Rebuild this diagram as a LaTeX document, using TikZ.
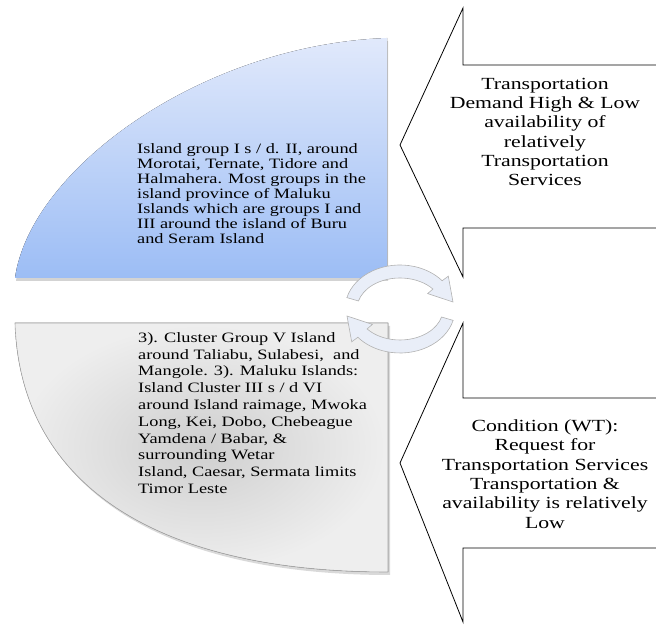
\documentclass[tikz,border=0pt]{standalone}
\usepackage{fontspec}
\setmainfont[FakeStretch=1.28]{Liberation Serif}
\usepackage{tikz}
\usetikzlibrary{shadows}

\definecolor{paleblue}{HTML}{E1E9FB}
\definecolor{deepblue}{HTML}{9CBDF5}
\definecolor{ringfill}{HTML}{E9EEF8}

\begin{document}
\begin{tikzpicture}[
    x=1pt, y=1pt,
    every node/.style={inner sep=0pt, text=black},
    group text/.style={anchor=west, align=left},
    side text/.style={align=center, font=\fontsize{17}{19.3}\selectfont},
    side arrow/.style={draw=black, line width=0.8pt, fill=white, line join=miter},
    turn arrow/.style={draw=gray!60, fill=ringfill, line width=0.6pt}
    ]
    \useasboundingbox (0,0) rectangle (656,626);

    % Island groups
    \fill[top color=paleblue, bottom color=deepblue,
          drop shadow={shadow xshift=1pt, shadow yshift=-3pt, opacity=0.35}]
        (15,348) .. controls (30,456) and (200,581) .. (387,588) -- (387,348) -- cycle;
    \filldraw[draw=gray!70, line width=0.6pt, shading=radial, inner color=gray!38, outer color=gray!13,
          drop shadow={shadow xshift=2pt, shadow yshift=-3pt, opacity=0.3}]
        (15,303) .. controls (20,146) and (150,54) .. (388,54) -- (388,303) -- cycle;

    \node[group text, font=\fontsize{14.3}{15}\selectfont] (grpA) at (137,432)
        {Island group I s / d. II, around\\ Morotai, Ternate, Tidore and\\
         Halmahera. Most groups in the\\ island province of Maluku\\
         Islands which are groups I and\\ III around the island of Buru\\
         and Seram Island};
    \node[group text, font=\fontsize{14.3}{16.8}\selectfont] (grpB) at (138,213)
        {3). Cluster Group V Island\\ around Taliabu, Sulabesi,\ \ and\\
         Mangole. 3). Maluku Islands:\\ Island Cluster III s / d VI\\
         around Island raimage, Mwoka\\ Long, Kei, Dobo, Chebeague\\
         Yamdena / Babar, \&\\ surrounding Wetar\\
         Island, Caesar, Sermata limits\\ Timor Leste};

    % Side arrows
    \filldraw[side arrow] (656,561) -- (463,561) -- (463,618) -- (400,481)
        -- (463,349) -- (463,398) -- (656,398);
    \filldraw[side arrow] (656,228) -- (463,228) -- (463,303) -- (400,163)
        -- (463,4) -- (463,78) -- (656,78);

    \node[side text] (demand) at (545,494)
        {Transportation\\ Demand High \& Low\\ availability of\\ relatively\\
         Transportation\\ Services};
    \node[side text] (condition) at (545,152)
        {Condition (WT):\\ Request for\\ Transportation Services\\
         Transportation \&\\ availability is relatively\\ Low};

    % Turning arrows
    \foreach \r in {0,180}
        \filldraw[turn arrow, shift={(400,317)}, rotate=\r]
            (165:55 and 44) arc[start angle=165, end angle=40, x radius=55, y radius=44]
            -- (48.3,32.8) -- (53,7) -- (27.6,15.4)
            -- (40:43 and 31) arc[start angle=40, end angle=165, x radius=43, y radius=31]
            -- cycle;

\end{tikzpicture}
\end{document}
